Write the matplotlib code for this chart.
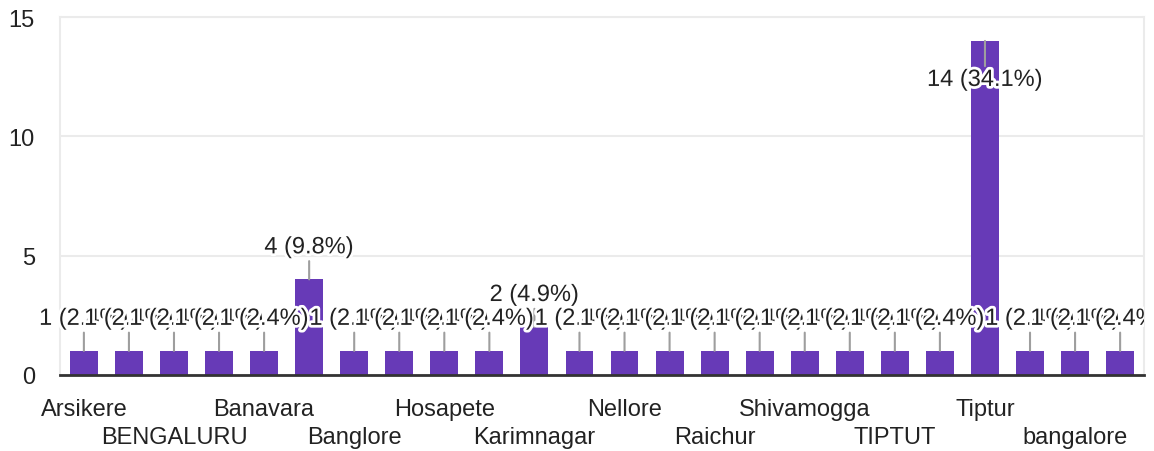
import matplotlib
matplotlib.use("Agg")
import matplotlib.pyplot as plt
import matplotlib.patheffects as pe
from matplotlib.transforms import Bbox, TransformedBbox

categories = ["Arsikere", "BANGALORE", "BENGALURU", "Ballari", "Banavara", "Bangalore",
              "Banglore", "Davangere", "Hosapete", "Hubli", "Karimnagar", "Mysore",
              "Nellore", "Pune", "Raichur", "Sagar", "Shivamogga", "TIPTUR",
              "TIPTUT", "Tipatur", "Tiptur", "Tumakuru", "bangalore", "tiptur"]
counts = [1, 1, 1, 1, 1, 4, 1, 1, 1, 1, 2, 1, 1, 1, 1, 1, 1, 1, 1, 1, 14, 1, 1, 1]
y_ticks = [0, 5, 10, 15]

plt.rcParams['font.family'] = ['Liberation Sans', 'DejaVu Sans']
FS = 17
TXT = '#222222'

fig = plt.figure(figsize=(11.54, 4.52), dpi=100)
ax = fig.add_axes([60 / 1154, 1 - 375.7 / 452, (1144 - 60) / 1154, (375.7 - 18.1) / 452])

x = list(range(len(categories)))
ax.bar(x, counts, width=0.62, color='#673ab7', zorder=2)

ax.set_xlim(-0.53, len(categories) - 1 + 0.53)
ax.set_ylim(0, 15)
ax.set_yticks(y_ticks)
ax.set_yticklabels([str(v) for v in y_ticks], fontsize=FS, color=TXT)
ax.tick_params(axis='y', length=0, pad=25 * 0.72)
ax.grid(axis='y', color='#ebebeb', linewidth=1.5, zorder=0)

ax.set_xticks(x)
ax.set_xticklabels([''] * len(x))
ax.tick_params(axis='x', length=0)
for i in range(0, len(categories), 2):
    row = (i // 2) % 2
    ax.annotate(categories[i], xy=(i, 0), xycoords='data',
                xytext=(0, -23 - 28 * row), textcoords='offset pixels',
                ha='center', va='top', fontsize=FS, color=TXT, annotation_clip=False)

for side in ['left', 'top', 'right']:
    ax.spines[side].set_color('#ebebeb')
    ax.spines[side].set_linewidth(1.5)
ax.spines['bottom'].set_color('#333333')
ax.spines['bottom'].set_linewidth(2)
ax.spines['bottom'].set_zorder(3)

total = sum(counts)
clip = TransformedBbox(Bbox.from_extents(-0.2, -0.5, 1.0, 1.5), ax.transAxes)
ymax = 15
for i, v in enumerate(counts):
    label = f"{v} ({v / total * 100:.1f}%)"
    if v > ymax * 0.8:
        off, va, rel = -28, 'top', (0.5, 1.0)
    else:
        off, va, rel = 26, 'baseline', (0.5, 0.0)
    t = ax.annotate(label, xy=(i, v), xycoords='data',
                    xytext=(0, off), textcoords='offset pixels',
                    ha='center', va=va, fontsize=FS, color=TXT,
                    arrowprops=dict(arrowstyle='-', color='#9e9e9e', lw=1.5,
                                    shrinkA=0, shrinkB=0, relpos=rel),
                    zorder=4, annotation_clip=False)
    t.set_path_effects([pe.withStroke(linewidth=4, foreground='white')])
    t.set_clip_box(clip)
    t.set_clip_on(True)

fig.savefig('out.png', dpi=100, facecolor='white')
